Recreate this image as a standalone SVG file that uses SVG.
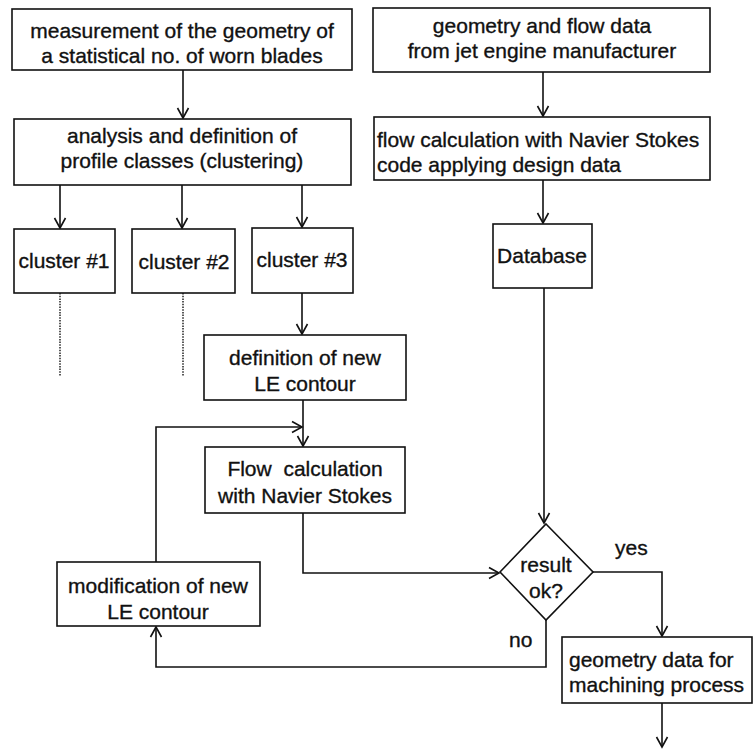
<svg xmlns="http://www.w3.org/2000/svg" width="753" height="749" viewBox="0 0 753 749">
<style>
.box{fill:#fff;stroke:#111;stroke-width:1.6}
.t{font-family:"Liberation Sans",Arial,sans-serif;font-size:21px;fill:#111;stroke:#111;stroke-width:0.35}
.c{text-anchor:middle}
.ln{fill:none;stroke:#111;stroke-width:1.6}
.dot{fill:none;stroke:#222;stroke-width:1.5;stroke-dasharray:1.5,1.2}
</style>
<defs>
<marker id="ah" markerUnits="userSpaceOnUse" markerWidth="14" markerHeight="14" viewBox="-11 -7 13 14" refX="0" refY="0" orient="auto">
<path d="M-10,-5.5 L0,0 L-10,5.5" fill="none" stroke="#111" stroke-width="1.6"/>
</marker>
</defs>
<rect width="753" height="749" fill="#fff"/>
<g id="connectors">
<path class="ln" d="M183,70 V118" marker-end="url(#ah)"/>
<path class="ln" d="M543,72 V116" marker-end="url(#ah)"/>
<path class="ln" d="M60,185 V228" marker-end="url(#ah)"/>
<path class="ln" d="M182,185 V228" marker-end="url(#ah)"/>
<path class="ln" d="M302,185 V227" marker-end="url(#ah)"/>
<path class="dot" d="M60,293 V376"/>
<path class="dot" d="M183,293 V376"/>
<path class="ln" d="M302,293 V334" marker-end="url(#ah)"/>
<path class="ln" d="M543,180 V223" marker-end="url(#ah)"/>
<path class="ln" d="M303,400 V446" marker-end="url(#ah)"/>
<path class="ln" d="M156,562 V427 H302" marker-end="url(#ah)"/>
<path class="ln" d="M544,288 V523" marker-end="url(#ah)"/>
<path class="ln" d="M303,513 V573 H499" marker-end="url(#ah)"/>
<path class="ln" d="M593,572 H662 V636" marker-end="url(#ah)"/>
<path class="ln" d="M546,620 V667 H156 V627" marker-end="url(#ah)"/>
<path class="ln" d="M662,703 V747" marker-end="url(#ah)"/>
</g>
<g id="n1"><rect class="box" x="12" y="9" width="340" height="61"/>
<text class="t c" x="182" y="38">measurement of the geometry of</text>
<text class="t c" x="182" y="63">a statistical no. of worn blades</text></g>
<g id="n2"><rect class="box" x="14" y="119" width="337" height="66"/>
<text class="t c" x="182" y="143">analysis and definition of</text>
<text class="t c" x="182" y="168">profile classes (clustering)</text></g>
<g id="n3"><rect class="box" x="373" y="8" width="337" height="64"/>
<text class="t c" x="542" y="33">geometry and flow data</text>
<text class="t c" x="542" y="58">from jet engine manufacturer</text></g>
<g id="n4"><rect class="box" x="374" y="117" width="336" height="63"/>
<text class="t" x="377" y="147">flow calculation with Navier Stokes</text>
<text class="t" x="377" y="172">code applying design data</text></g>
<g id="c1"><rect class="box" x="14" y="229" width="101" height="64"/>
<text class="t c" x="64" y="268">cluster #1</text></g>
<g id="c2"><rect class="box" x="132" y="229" width="103" height="64"/>
<text class="t c" x="184" y="269">cluster #2</text></g>
<g id="c3"><rect class="box" x="252" y="228" width="101" height="65"/>
<text class="t c" x="302" y="267">cluster #3</text></g>
<g id="db"><rect class="box" x="493" y="224" width="99" height="64"/>
<text class="t c" x="542" y="263">Database</text></g>
<g id="n5"><rect class="box" x="204" y="335" width="202" height="65"/>
<text class="t c" x="305" y="365">definition of new</text>
<text class="t c" x="305" y="391">LE contour</text></g>
<g id="n6"><rect class="box" x="205" y="447" width="200" height="66"/>
<text class="t c" x="305" y="476" xml:space="preserve">Flow  calculation</text>
<text class="t c" x="305" y="503">with Navier Stokes</text></g>
<g id="n7"><rect class="box" x="57" y="562" width="203" height="64"/>
<text class="t c" x="158" y="593">modification of new</text>
<text class="t c" x="158" y="619">LE contour</text></g>
<g id="d1"><polygon class="box" points="546,524 593,572 546,620 500,572"/>
<text class="t c" x="546" y="572">result</text>
<text class="t c" x="546" y="598">ok?</text></g>
<g id="n8"><rect class="box" x="562" y="637" width="190" height="66"/>
<text class="t" x="569" y="667">geometry data for</text>
<text class="t" x="569" y="692">machining process</text></g>
<text class="t" x="615" y="555">yes</text>
<text class="t" x="509" y="647">no</text>
</svg>
